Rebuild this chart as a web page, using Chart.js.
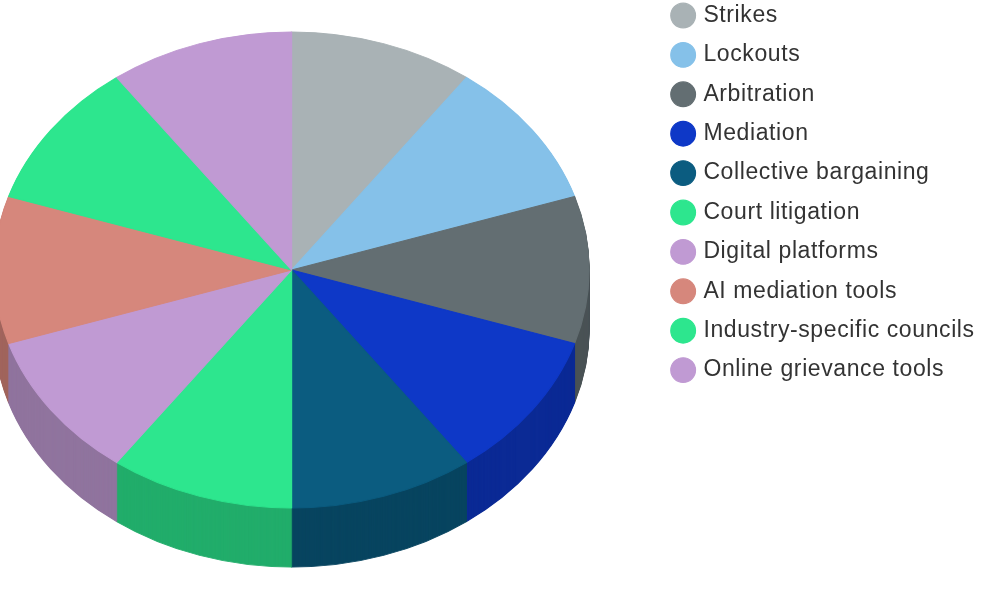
<!DOCTYPE html>
<html>
<head>
<meta charset="utf-8">
<title>Dispute resolution</title>
<script src="https://cdn.jsdelivr.net/npm/chart.js@4/dist/chart.umd.min.js"></script>
<style>
    html, body { margin: 0; padding: 0; background: #fff; overflow: hidden; }
    canvas { display: block; filter: blur(0.4px); }
</style>
</head>
<body>
<canvas id="grafik" width="1000" height="600"></canvas>
<script>
// -------- DATA --------
const categories = ["Strikes", "Lockouts", "Arbitration", "Mediation", "Collective bargaining",
    "Court litigation", "Digital platforms", "AI mediation tools", "Industry-specific councils", "Online grievance tools"];
const shares = [10, 10, 10, 10, 10, 10, 10, 10, 10, 10];
const colors = ["#A9B2B5", "#85C1E9", "#636E72", "#0E38C7", "#0B5C80",
    "#2DE68E", "#C09AD3", "#D6877C", "#2DE68E", "#C09AD3"];

// -------- 3D LOOK --------
const centerX = 291.6, centerY = 270, radiusX = 297.5, radiusY = 238, depth = 59;

function darken(hex, f) {
    const n = parseInt(hex.slice(1), 16);
    const c = [n >> 16, (n >> 8) & 255, n & 255].map(v => Math.round(v * f));
    return `rgb(${c[0]},${c[1]},${c[2]})`;
}

const tiltPie = {
    id: "tiltPie",
    afterLayout(chart) {
        // legend sits at the top right, first row touching the page edge
        chart.legend.left = 658;
        chart.legend.top = -12.4;
    },
    beforeDraw(chart) {
        chart.ctx.letterSpacing = "0.6px";
    },
    beforeDatasetsDraw(chart) {
        const ctx = chart.ctx;
        const arcs = chart.getDatasetMeta(0).data;

        const drawLayer = (drop, side) => {
            arcs.forEach((arc, i) => {
                const opts = arc.options;
                const r = arc.outerRadius;
                ctx.save();
                ctx.translate(centerX, centerY + drop);
                ctx.scale(radiusX / r, radiusY / r);
                ctx.translate(-arc.x, -arc.y);
                if (side) {
                    const dark = darken(colors[i], 0.75);
                    arc.options = Object.assign(Object.create(opts), { backgroundColor: dark, borderColor: dark });
                }
                arc.draw(ctx);
                arc.options = opts;
                ctx.restore();
            });
        };

        for (let d = depth; d > 0; d--) drawLayer(d, true);
        drawLayer(0, false);
        return false;
    }
};

// -------- CHART --------
new Chart(document.getElementById("grafik"), {
    type: "pie",
    data: {
        labels: categories,
        datasets: [{
            data: shares,
            backgroundColor: colors,
            borderColor: colors,
            borderWidth: 1.2,
            borderJoinStyle: "round"
        }]
    },
    options: {
        responsive: false,
        animation: false,
        devicePixelRatio: 1,
        plugins: {
            tooltip: { enabled: false },
            legend: {
                position: "right",
                align: "start",
                labels: {
                    usePointStyle: true,
                    boxHeight: 17.5,
                    boxWidth: 17.5,
                    padding: 16.4,
                    color: "#333",
                    font: { family: "'Liberation Sans', Arial, sans-serif", size: 23 }
                }
            }
        }
    },
    plugins: [tiltPie]
});
</script>
</body>
</html>
